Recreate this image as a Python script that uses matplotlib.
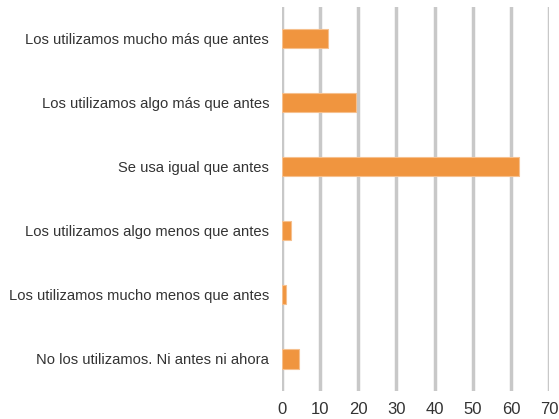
import matplotlib.pyplot as plt
from matplotlib import font_manager

categorias = [
    "Los utilizamos mucho más que antes",
    "Los utilizamos algo más que antes",
    "Se usa igual que antes",
    "Los utilizamos algo menos que antes",
    "Los utilizamos mucho menos que antes",
    "No los utilizamos. Ni antes ni ahora",
]
porcentajes = [12.0, 19.5, 61.9, 2.4, 1.1, 4.5]
ticks_x = [0, 10, 20, 30, 40, 50, 60, 70]

nombres = {f.name for f in font_manager.fontManager.ttflist}
fuente = "Liberation Sans Narrow" if "Liberation Sans Narrow" in nombres else "Liberation Sans"
plt.rcParams["font.family"] = [fuente, "DejaVu Sans"]

fig = plt.figure(figsize=(5.59, 4.19), dpi=100)
ax = fig.add_axes([0.504, 0.067, 0.479, 0.917])

pos = list(range(len(categorias)))
ax.barh(pos, porcentajes, height=0.3, color="#F0953F", edgecolor="#F6C08E", linewidth=0.8, zorder=3)

ax.set_xlim(0, 70)
ax.set_ylim(len(categorias) - 0.5, -0.5)
ax.set_xticks(ticks_x)
ax.set_yticks(pos)
ax.set_yticklabels(categorias)

ax.grid(axis="x", color="#C8C8C8", linewidth=2.5, zorder=0)
for s in ax.spines.values():
    s.set_visible(False)
ax.tick_params(axis="both", length=0, colors="#333333")
ax.tick_params(axis="x", pad=8, labelsize=12)
ax.tick_params(axis="y", pad=9, labelsize=10.6)

fig.savefig("out.png", dpi=100)
